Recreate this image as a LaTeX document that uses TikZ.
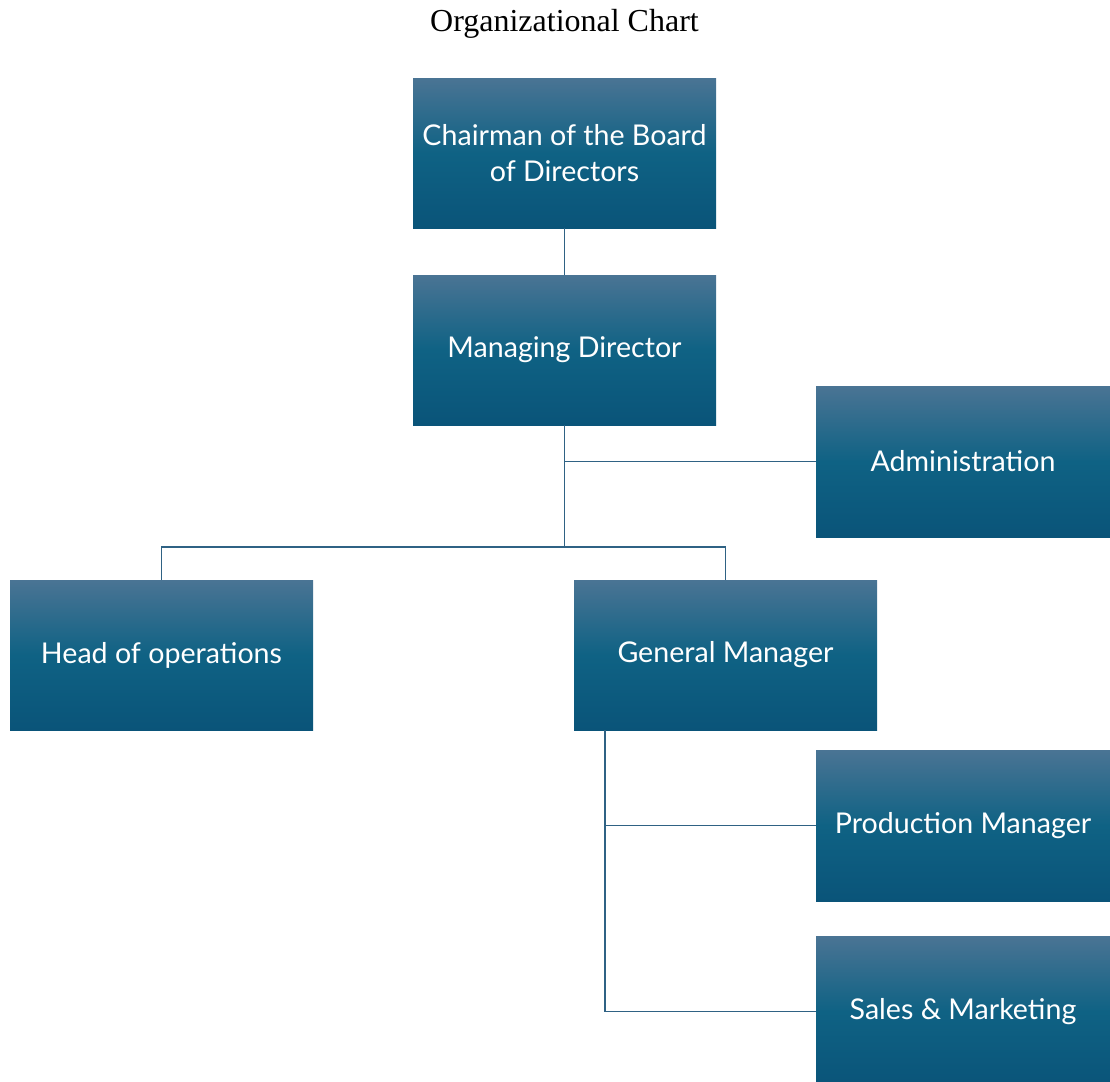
\documentclass[tikz,border=0pt]{standalone}
\usepackage{fontspec}
\setmainfont{Liberation Serif}
\newfontfamily\boxfont{Lato}
\usetikzlibrary{positioning,calc}

\definecolor{boxtop}{HTML}{4A7494}
\definecolor{boxmid}{HTML}{0F6284}
\definecolor{boxbot}{HTML}{0A5479}
\definecolor{linkcol}{HTML}{2F6284}

\tikzset{
  post/.style={rectangle, minimum width=303pt, minimum height=150pt,
    top color=boxtop, bottom color=boxbot, middle color=boxmid,
    text=white, align=center, inner sep=0pt,
    font=\boxfont\fontsize{28.6}{36}\selectfont},
  narrow/.style={post, minimum width=294pt, minimum height=151pt},
  link/.style={draw=linkcol, line width=1.5pt}
}

\begin{document}
\begin{tikzpicture}[x=1pt,y=-1pt]
\useasboundingbox (0,0) rectangle (1110,1081);
\node[font=\fontsize{32}{38}\selectfont] (title) at (564.5,24) {Organizational Chart};

% top of the chart
\node[post] (chair) at (564.5,153) {Chairman of the Board\\of Directors};
\node[post] (md) at (564.5,350) {Managing Director};
\node[narrow] (admin) at (963,461.5) {Administration};

% second level
\node[post] (head) at (161.5,655) {Head of operations};
\node[post] (gm) at (725.5,655) {General Manager};
\node[narrow] (prod) at (963,825.5) {Production Manager};
\node[narrow] (sales) at (963,1011.5) {Sales \& Marketing};

\coordinate (split) at ($(md.south)+(0,122)$);
\coordinate (gmleg) at ($(gm.south west)+(31,0)$);

\draw[link] (chair) -- (md);
\draw[link] (md.south) -- (split);
\draw[link] (md.south |- admin.west) -- (admin.west);
\draw[link] (head.north) |- (split) -| (gm.north);
\draw[link] (gmleg) |- (sales.west);
\draw[link] (gmleg |- prod.west) -- (prod.west);
\end{tikzpicture}
\end{document}
